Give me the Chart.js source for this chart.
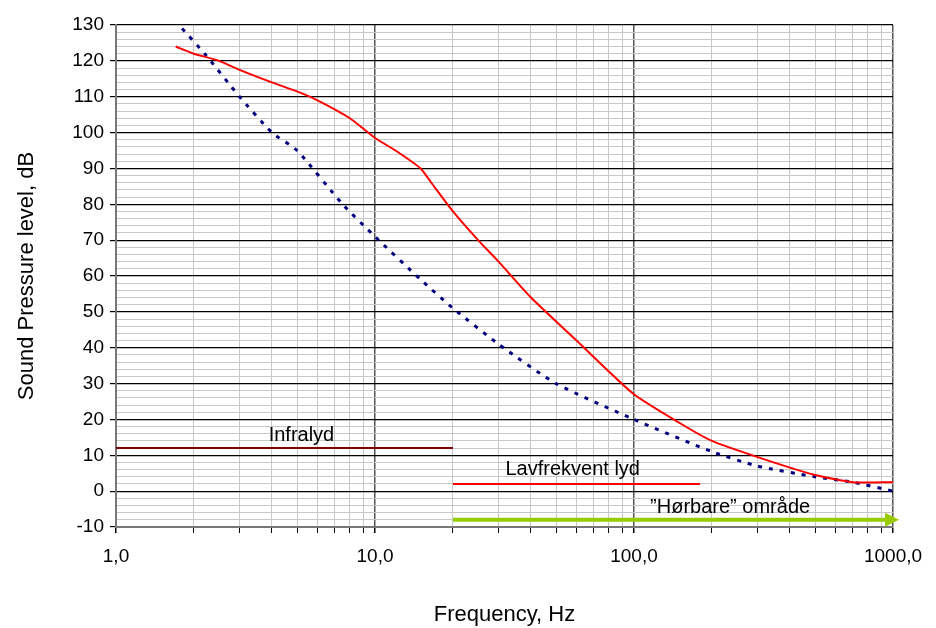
<!DOCTYPE html>
<html>
<head>
<meta charset="utf-8">
<script src="https://cdn.jsdelivr.net/npm/chart.js@4"></script>
<style>
  body { margin: 0; background: #fff; }
  #wrap { width: 936px; height: 628px; }
</style>
</head>
<body>
<div id="wrap"><canvas id="c"></canvas></div>
<script>
// Frequency (Hz) and sound pressure level (dB)
const redFreq = [1.7, 2.0, 2.5, 3, 4, 5, 6, 8, 10, 12, 15, 16.5, 20, 25, 30, 40, 60, 100, 150, 200, 300, 500, 700, 1000];
const redDb   = [124, 122, 120, 117.5, 114, 111.5, 109, 104, 98.5, 95, 90, 86, 78, 70, 64, 54, 42, 27, 19, 14, 9.5, 4.5, 2.5, 2.5];
const blueFreq = [1.8, 2.2, 3, 4, 5, 7.5, 10, 15, 20, 30, 50, 100, 200, 300, 500, 700, 1000];
const blueDb   = [129, 122, 110, 100, 95, 80, 71, 59, 51, 41, 30, 20, 11, 7, 4, 2.5, 0];
const bands = [
  { label: 'Infralyd', from: 1, to: 20, db: 12, color: '#800000', textAt: 5.2, textDb: 15.5 },
  { label: 'Lavfrekvent lyd', from: 20, to: 180, db: 2, color: '#ff0000', textAt: 58, textDb: 6 },
  { label: '\u201DHørbare\u201D område', from: 20, to: 1000, db: -8, color: '#99cc00', textAt: 235, textDb: -4.5 }
];
const xTickLabels = { 1: '1,0', 10: '10,0', 100: '100,0', 1000: '1000,0' };

const toPts = (xs, ys) => xs.map((x, i) => ({ x: x, y: ys[i] }));

const datasets = [
  { data: toPts(redFreq, redDb), borderColor: '#ff0000', borderWidth: 2, pointRadius: 0, tension: 0.2 },
  { data: toPts(blueFreq, blueDb), borderColor: '#000080', borderWidth: 3, borderDash: [4, 7], pointRadius: 0, tension: 0.2 }
];
bands.forEach(b => {
  datasets.push({ data: [{ x: b.from, y: b.db }, { x: b.to, y: b.db }], borderColor: b.color, borderWidth: b.color === '#99cc00' ? 4 : 2, pointRadius: 0 });
});

const bandPlugin = {
  id: 'bands',
  afterDatasetsDraw(chart) {
    const ctx = chart.ctx, xs = chart.scales.x, ys = chart.scales.y;
    ctx.save();
    ctx.fillStyle = '#000';
    ctx.font = '20px "Liberation Sans", Arial, sans-serif';
    ctx.textAlign = 'center';
    ctx.textBaseline = 'middle';
    bands.forEach(b => ctx.fillText(b.label, xs.getPixelForValue(b.textAt), ys.getPixelForValue(b.textDb)));
    // arrow head on the green band
    const g = bands[2];
    const ax = xs.getPixelForValue(g.to) + 6, ay = ys.getPixelForValue(g.db);
    ctx.fillStyle = g.color;
    ctx.beginPath();
    ctx.moveTo(ax, ay);
    ctx.lineTo(ax - 14, ay - 7);
    ctx.lineTo(ax - 14, ay + 7);
    ctx.closePath();
    ctx.fill();
    ctx.restore();
  }
};

const font = { family: '"Liberation Sans", Arial, sans-serif', size: 19 };

new Chart(document.getElementById('c'), {
  type: 'line',
  data: { datasets: datasets },
  plugins: [bandPlugin],
  options: {
    responsive: true,
    maintainAspectRatio: false,
    animation: false,
    layout: { padding: { top: 25, right: 43, left: 0, bottom: 0 } },
    plugins: { legend: { display: false }, tooltip: { enabled: false } },
    scales: {
      x: {
        type: 'logarithmic', min: 1, max: 1000,
        afterBuildTicks(axis) {
          const t = [];
          [1, 10, 100].forEach(d => { for (let k = 1; k < 10; k++) t.push({ value: d * k }); });
          t.push({ value: 1000 });
          axis.ticks = t;
        },
        afterFit(axis) { axis.height = 101; },
        ticks: {
          autoSkip: false, maxRotation: 0, color: '#000', font: font, padding: 12,
          callback: v => xTickLabels[v] || ''
        },
        grid: {
          color: c => (xTickLabels[c.tick.value] ? '#555' : '#c8c8c8'),
          lineWidth: c => (xTickLabels[c.tick.value] ? 1.5 : 1),
          tickLength: 6, tickColor: '#000'
        },
        border: { color: '#777', width: 2 },
        title: { display: true, text: 'Frequency, Hz', color: '#000', font: { family: font.family, size: 22 }, padding: { top: 30, bottom: 0 } }
      },
      y: {
        min: -10, max: 130,
        afterBuildTicks(axis) {
          const t = [];
          for (let v = -10; v <= 130; v += 2) t.push({ value: v });
          axis.ticks = t;
        },
        afterFit(axis) { axis.width = 116; },
        ticks: { autoSkip: false, color: '#000', font: font, padding: 6, callback: v => (v % 10 === 0 ? String(v) : '') },
        grid: {
          color: c => (c.tick.value % 10 === 0 ? '#000' : '#c8c8c8'),
          lineWidth: c => (c.tick.value % 10 === 0 ? 1.2 : 1),
          tickLength: 6, tickColor: c => (c.tick.value % 10 === 0 ? '#000' : 'rgba(0,0,0,0)')
        },
        border: { color: '#777', width: 2 },
        title: { display: true, text: 'Sound Pressure level, dB', color: '#000', font: { family: font.family, size: 22 }, padding: { top: 14, bottom: 4 } }
      }
    }
  }
});
</script>
</body>
</html>
